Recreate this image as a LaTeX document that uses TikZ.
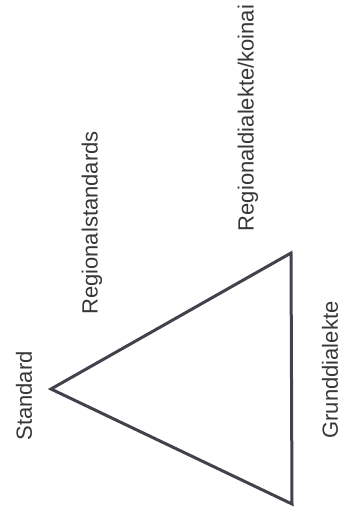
\documentclass[tikz,border=0pt]{standalone}
\usepackage{fontspec}
\setmainfont{Liberation Sans}
\usetikzlibrary{positioning}
\definecolor{inkgray}{RGB}{68,64,76}
\definecolor{textgray}{RGB}{55,55,58}

\begin{document}
\begin{tikzpicture}[x=1pt, y=-1pt,
  tag/.style={rotate=90, text=textgray, font=\fontsize{22}{26}\selectfont, inner sep=0pt},
  edge/.style={draw=inkgray, line width=3pt, line join=miter}
]
  \useasboundingbox (0,0) rectangle (345,512);
  \coordinate (apex) at (51,389);
  \coordinate (top) at (291,253);
  \coordinate (bottom) at (292,504);
  \draw[edge] (apex) -- (top) -- (bottom) -- cycle;

  \node[tag] (standard) at (24,396) {Standard};
  \node[tag] (regstd) at (92,223) {Regionalstandards};
  \node[tag] (regdial) at (248,118) {Regionaldialekte/koinai};
  \node[tag] (grund) at (330,370) {Grunddialekte};
\end{tikzpicture}
\end{document}
